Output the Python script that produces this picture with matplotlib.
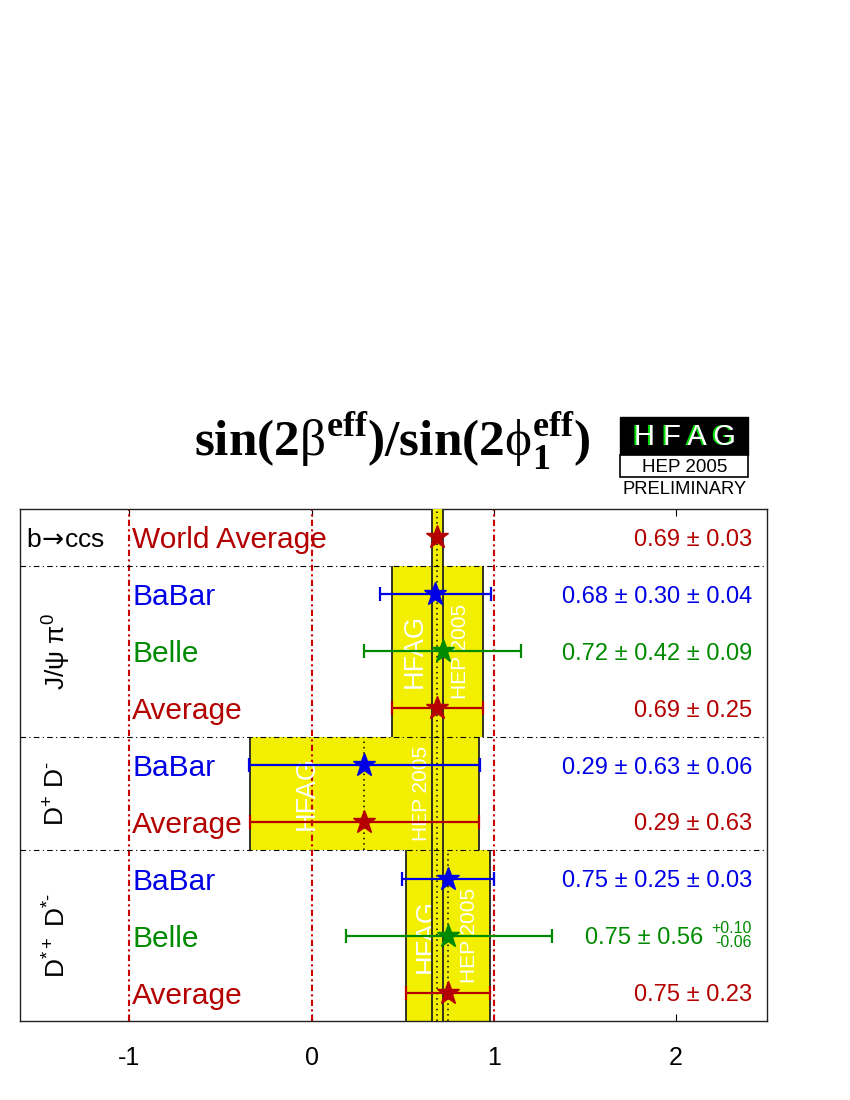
import numpy as np
import matplotlib
matplotlib.use("Agg")
import matplotlib.pyplot as plt
from matplotlib.patches import Rectangle

plt.rcParams["font.family"] = ["Liberation Sans", "DejaVu Sans"]
plt.rcParams["mathtext.fontset"] = "custom"
plt.rcParams["mathtext.rm"] = "Liberation Sans"
plt.rcParams["mathtext.it"] = "Liberation Sans:italic"
plt.rcParams["mathtext.bf"] = "Liberation Serif:bold"
plt.rcParams["mathtext.sf"] = "Liberation Serif"
plt.rcParams["axes.unicode_minus"] = False

RED    = "#b40000"
BLUE   = "#0000e6"
GREEN  = "#008a00"
YELLOW = "#f2f000"

# measurements, top to bottom
LABELS  = ["World Average", "BaBar", "Belle", "Average",
           "BaBar", "Average", "BaBar", "Belle", "Average"]
VALUES  = [0.69, 0.68, 0.72, 0.69, 0.29, 0.29, 0.75, 0.75, 0.75]
STAT    = [0.03, 0.30, 0.42, 0.25, 0.63, 0.63, 0.25, 0.56, 0.23]
SYST_HI = [0.00, 0.04, 0.09, 0.00, 0.06, 0.00, 0.03, 0.10, 0.00]
SYST_LO = [0.00, 0.04, 0.09, 0.00, 0.06, 0.00, 0.03, 0.06, 0.00]
COLORS  = [RED, BLUE, GREEN, RED, BLUE, RED, BLUE, GREEN, RED]
VALUE_TEXT = ["0.69 ± 0.03", "0.68 ± 0.30 ± 0.04", "0.72 ± 0.42 ± 0.09",
              "0.69 ± 0.25", "0.29 ± 0.63 ± 0.06", "0.29 ± 0.63",
              "0.75 ± 0.25 ± 0.03", "0.75 ± 0.56", "0.75 ± 0.23"]
ASYM_ROW = 7
ASYM_TEXT = ("+0.10", "-0.06")

# decay modes: name, first row, number of rows, average, error
GROUP_NAMES = [r"b$\!\rightarrow\!$ccs", "J/ψ π$^{0}$", "D$^{+}$ D$^{‐}$", "D$^{*+}$ D$^{*‐}$"]
GROUP_START = [0, 1, 4, 6]
GROUP_NROWS = [1, 3, 2, 3]
GROUP_AVG   = [0.69, 0.69, 0.29, 0.75]
GROUP_ERR   = [0.03, 0.25, 0.63, 0.23]

N = len(LABELS)
XMIN, XMAX = -1.6, 2.5

fig = plt.figure(figsize=(8.5, 11), dpi=100)
ax = fig.add_axes([20 / 850, 1 - 1021 / 1100, 747 / 850, 512 / 1100])
ax.set_xlim(XMIN, XMAX)
ax.set_ylim(0, N)

def row_y(i):
    return N - i - 0.5

# average bands per decay mode (world average drawn last, on top)
for g in list(range(1, len(GROUP_NAMES))) + [0]:
    avg, err = GROUP_AVG[g], GROUP_ERR[g]
    if g == 0:
        y0, y1, z = 0, N, 4
    else:
        y1 = N - GROUP_START[g]
        y0 = y1 - GROUP_NROWS[g]
        z = 1
    ax.add_patch(Rectangle((avg - err, y0), 2 * err, y1 - y0,
                           facecolor=YELLOW, edgecolor="none", zorder=z))
    ax.vlines([avg - err, avg + err], y0, y1, color="#222222", lw=1.3, zorder=z + 0.1)
    ax.vlines(avg, y0, y1, color="black", lw=1.1, linestyles=(0, (1, 2.5)), zorder=z + 0.2)
    if g > 0:
        ym = (y0 + y1) / 2
        ax.text(avg - err / 2, ym, "HFAG", rotation=90, color="white",
                fontsize=19.5, ha="center", va="center", zorder=3)
        ax.text(avg + err / 2, ym, "HEP 2005", rotation=90, color="white",
                fontsize=15, ha="center", va="center", zorder=3)

# reference lines
for xv in [-1, 0, 1]:
    ax.axvline(xv, color="#cc0000", lw=1.5, ls=(0, (3, 1.6, 1, 1.6)), zorder=2.5)

# separators between decay modes
for g in range(1, len(GROUP_NAMES)):
    ax.axhline(N - GROUP_START[g], color="black", lw=0.8,
               ls=(0, (5, 3, 1, 3)), zorder=5)

# measurements
for i in range(N):
    y = row_y(i)
    lo = np.hypot(STAT[i], SYST_LO[i])
    hi = np.hypot(STAT[i], SYST_HI[i])
    if i > 0:
        ax.errorbar(VALUES[i], y, xerr=[[lo], [hi]], fmt="none", ecolor=COLORS[i],
                    elinewidth=1.6, capsize=5, capthick=1.6, zorder=6)
    ax.plot(VALUES[i], y, marker="*", ms=17, color=COLORS[i], mec=COLORS[i], zorder=7)
    ax.text(-0.985, y, LABELS[i], color=COLORS[i], fontsize=21.5,
            ha="left", va="center_baseline", zorder=8)
    if i == ASYM_ROW:
        ax.text(2.15, y, VALUE_TEXT[i], color=COLORS[i], fontsize=17,
                ha="right", va="center_baseline", zorder=8)
        ax.text(2.418, y + 0.16, ASYM_TEXT[0], color=COLORS[i], fontsize=11.5,
                ha="right", va="center_baseline", zorder=8)
        ax.text(2.418, y - 0.1, ASYM_TEXT[1], color=COLORS[i], fontsize=11.5,
                ha="right", va="center_baseline", zorder=8)
    else:
        ax.text(2.418, y, VALUE_TEXT[i], color=COLORS[i], fontsize=17,
                ha="right", va="center_baseline", zorder=8)

# decay mode names
ax.text(-1.565, row_y(0), GROUP_NAMES[0], fontsize=19, ha="left",
        va="center_baseline", math_fontfamily="dejavusans")
for g in range(1, len(GROUP_NAMES)):
    ym = N - GROUP_START[g] - GROUP_NROWS[g] / 2
    ax.text(-1.396, ym, GROUP_NAMES[g], fontsize=19, rotation=90,
            ha="center", va="center")

ax.set_yticks([])
ax.set_xticks([-1, 0, 1, 2])
ax.tick_params(axis="x", direction="in", length=5, width=0.8, top=True,
               bottom=True, labelsize=18, pad=18)
for sp in ax.spines.values():
    sp.set_color("#222222")
    sp.set_linewidth(1.0)

# title
fig.text(392 / 850, 1 - 456 / 1100,
         r"$\mathbf{sin(2}\mathsf{β}^{\mathbf{eff}}\mathbf{)/sin(2}\mathsf{ϕ}_{\mathbf{1}}^{\mathbf{eff}}\mathbf{)}$",
         fontsize=37, ha="center", va="baseline")

# HFAG logo
fig.patches.append(Rectangle((620 / 850, 1 - 455 / 1100), 128 / 850, 38 / 1100,
                             transform=fig.transFigure, facecolor="black",
                             edgecolor="black", figure=fig))
fig.patches.append(Rectangle((620 / 850, 1 - 477 / 1100), 128 / 850, 22 / 1100,
                             transform=fig.transFigure, facecolor="white",
                             edgecolor="black", lw=1.2, figure=fig))
fig.text(685 / 850 - 2 / 850, 1 - 437 / 1100, "H F A G", color="#00dd00",
         fontsize=21, ha="center", va="center")
fig.text(685 / 850, 1 - 437 / 1100, "H F A G", color="white",
         fontsize=21, ha="center", va="center")
fig.text(685 / 850, 1 - 467 / 1100, "HEP 2005", color="black",
         fontsize=13.5, ha="center", va="center")
fig.text(685 / 850, 1 - 490 / 1100, "PRELIMINARY", color="black",
         fontsize=13.2, ha="center", va="center")

fig.savefig("out.png", dpi=100)
